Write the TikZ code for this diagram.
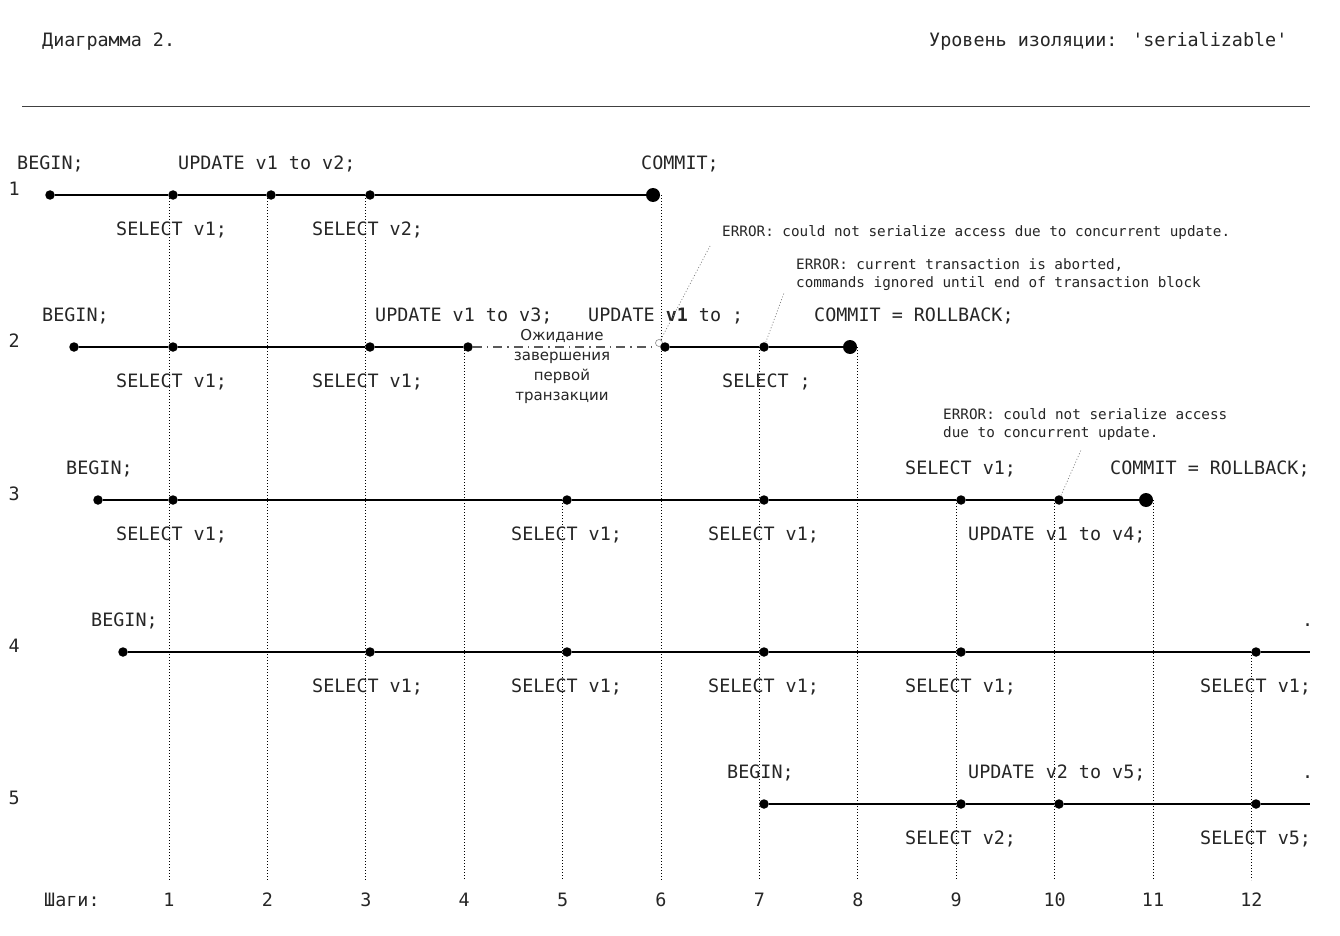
\documentclass[tikz,border=0pt]{standalone}
\usepackage{fontspec}
\newfontfamily\mono{DejaVu Sans Mono}
\newfontfamily\sansf{DejaVu Sans}
\begin{document}
\begin{tikzpicture}[x=1pt,y=-1pt,
  txt/.style={text=black!85},
  big/.style={txt,font=\mono\fontsize{18.4}{22}\selectfont,inner sep=0pt},
  small/.style={txt,font=\mono\fontsize{14.3}{18}\selectfont,inner sep=0pt,anchor=base west,align=left},
  toplbl/.style={big,anchor=base west,yshift=25.5pt},
  botlbl/.style={big,anchor=base west,yshift=-40pt},
  rownum/.style={big,anchor=base west},
  steplbl/.style={big,anchor=base},
  dot/.style={circle,fill=black,inner sep=0pt,minimum size=9.5pt},
  bigdot/.style={circle,fill=black,inner sep=0pt,minimum size=14pt},
  opendot/.style={circle,draw=black!45,line width=0.6pt,fill=white,inner sep=0pt,minimum size=7pt},
  tline/.style={line width=1.4pt,black},
  waitline/.style={line width=1.1pt,black!65,dash pattern=on 9pt off 5pt on 1.5pt off 5pt},
  guide/.style={line width=1pt,black,dash pattern=on 1pt off 2pt},
  leader/.style={line width=0.7pt,black!50,dash pattern=on 1pt off 2pt},
  rule/.style={line width=1.2pt,black!75}]
\useasboundingbox (0,0) rectangle (1340,936);
\fill[white] (0,0) rectangle (1340,936);

% header
\node[big,anchor=base west] (title) at (42,46.5) {Диаграмма 2.};
\node[big,anchor=base west] (level) at (929,46.5) {Уровень изоляции: 'serializable'};
\coordinate (ruleL) at (22,106.5);
\coordinate (ruleR) at (1310,106.5);
\draw[rule] (ruleL) -- (ruleR);

% step guides and step numbers
\foreach \k/\t in {1/195,2/195,3/195,4/347,5/500,6/195,7/347,8/347,9/500,10/500,11/500,12/652}{
  \coordinate (gt\k) at ({169+(\k-1)*98.4},\t);
  \coordinate (gb\k) at ({169+(\k-1)*98.4},880);
  \draw[guide] (gt\k) -- (gb\k);
  \node[steplbl] (st\k) at ({169+(\k-1)*98.4},906.5) {\k};
}
\node[big,anchor=base west] (steps) at (44,906.5) {Шаги:};

% row numbers
\foreach \r/\y in {1/195,2/347,3/500,4/652,5/804}{
  \node[rownum] (rn\r) at (8.5,\y) {\r};
}

% ---- transaction 1
\node[dot] (a0) at (50,195) {};
\node[dot] (a1) at (173,195) {};
\node[dot] (a2) at (271,195) {};
\node[dot] (a3) at (370,195) {};
\node[bigdot] (a6) at (653,195) {};
\draw[tline] (a0) -- (a1) -- (a2) -- (a3) -- (a6);
\node[toplbl] (la0) at (17,195) {BEGIN;};
\node[toplbl] (la2) at (178,195) {UPDATE v1 to v2;};
\node[toplbl] (la6) at (641,195) {COMMIT;};
\node[botlbl] (la1) at (116,195) {SELECT v1;};
\node[botlbl] (la3) at (312,195) {SELECT v2;};

% ---- transaction 2
\node[dot] (b0) at (74,347) {};
\node[dot] (b1) at (173,347) {};
\node[dot] (b3) at (370,347) {};
\node[dot] (b4) at (468,347) {};
\node[opendot] (bw) at (659,343) {};
\node[dot] (b6) at (665,347) {};
\node[dot] (b7) at (764,347) {};
\node[bigdot] (b8) at (850,347) {};
\draw[tline] (b0) -- (b1) -- (b3) -- (b4);
\draw[waitline] (b4) -- (bw.west |- b4);
\draw[tline] (b6) -- (b7) -- (b8);
\node[toplbl] (lb0) at (42,347) {BEGIN;};
\node[toplbl] (lb4) at (375,347) {UPDATE v1 to v3;};
\node[toplbl] (lb6) at (588,347) {UPDATE \textbf{v1} to ;};
\node[toplbl] (lb8) at (814,347) {COMMIT = ROLLBACK;};
\node[botlbl] (lb1) at (116,347) {SELECT v1;};
\node[botlbl] (lb3) at (312,347) {SELECT v1;};
\node[botlbl] (lb7) at (722,347) {SELECT ;};
\node[txt,font=\sansf\fontsize{15}{20}\selectfont,align=center,inner sep=0pt] (wait) at (562,366.5)
  {Ожидание\\завершения\\первой\\транзакции};

% errors of transaction 2 (multi-line nodes sit on their last baseline)
\node[small] (err1) at (722,236) {ERROR: could not serialize access due to concurrent update.};
\coordinate (err1p) at (710,246);
\draw[leader] (bw) -- (err1p);
\node[small] (err2) at (796,287) {ERROR: current transaction is aborted,\\commands ignored until end of transaction block};
\coordinate (err2p) at (784,293);
\draw[leader] (b7) -- (err2p);

% ---- transaction 3
\node[dot] (c0) at (98,500) {};
\node[dot] (c1) at (173,500) {};
\node[dot] (c5) at (567,500) {};
\node[dot] (c7) at (764,500) {};
\node[dot] (c9) at (961,500) {};
\node[dot] (c10) at (1059,500) {};
\node[bigdot] (c11) at (1146,500) {};
\draw[tline] (c0) -- (c1) -- (c5) -- (c7) -- (c9) -- (c10) -- (c11);
\node[toplbl] (lc0) at (66,500) {BEGIN;};
\node[toplbl] (lc9) at (905,500) {SELECT v1;};
\node[toplbl] (lc11) at (1110,500) {COMMIT = ROLLBACK;};
\node[botlbl] (lc1) at (116,500) {SELECT v1;};
\node[botlbl] (lc5) at (511,500) {SELECT v1;};
\node[botlbl] (lc7) at (708,500) {SELECT v1;};
\node[botlbl] (lc10) at (968,500) {UPDATE v1 to v4;};
\node[small] (err3) at (943,437) {ERROR: could not serialize access\\due to concurrent update.};
\coordinate (err3p) at (1081,450);
\draw[leader] (c10) -- (err3p);

% ---- transaction 4
\node[dot] (d0) at (123,652) {};
\node[dot] (d3) at (370,652) {};
\node[dot] (d5) at (567,652) {};
\node[dot] (d7) at (764,652) {};
\node[dot] (d9) at (961,652) {};
\node[dot] (d12) at (1256,652) {};
\coordinate (dend) at (1310,652);
\draw[tline] (d0) -- (d3) -- (d5) -- (d7) -- (d9) -- (d12) -- (dend);
\node[toplbl] (ld0) at (91,652) {BEGIN;};
\node[toplbl] (ld12) at (1302,652) {.};
\node[botlbl] (ld3) at (312,652) {SELECT v1;};
\node[botlbl] (ld5) at (511,652) {SELECT v1;};
\node[botlbl] (ld7) at (708,652) {SELECT v1;};
\node[botlbl] (ld9) at (905,652) {SELECT v1;};
\node[botlbl] (ld12b) at (1200,652) {SELECT v1;};

% ---- transaction 5
\node[dot] (e7) at (764,804) {};
\node[dot] (e9) at (961,804) {};
\node[dot] (e10) at (1059,804) {};
\node[dot] (e12) at (1256,804) {};
\coordinate (eend) at (1310,804);
\draw[tline] (e7) -- (e9) -- (e10) -- (e12) -- (eend);
\node[toplbl] (le7) at (727,804) {BEGIN;};
\node[toplbl] (le10) at (968,804) {UPDATE v2 to v5;};
\node[toplbl] (le12) at (1302,804) {.};
\node[botlbl] (le9) at (905,804) {SELECT v2;};
\node[botlbl] (le12b) at (1200,804) {SELECT v5;};
\end{tikzpicture}
\end{document}
